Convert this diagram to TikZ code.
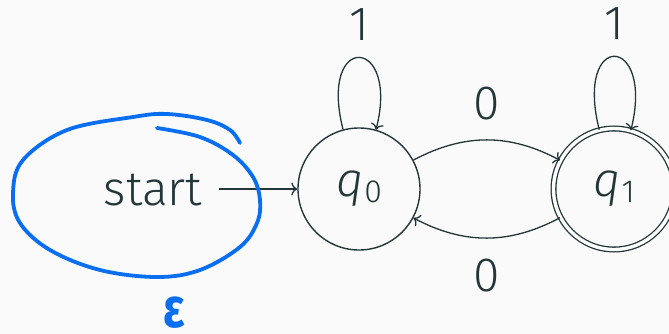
\documentclass[tikz,border=0pt]{standalone}
\usepackage{fontspec}
\setmainfont{Fira Sans}[UprightFont=* Light, ItalicFont=* Light Italic]
\newfontfamily\epsfont{Fira Sans}[UprightFont=* Bold]
\usetikzlibrary{arrows.meta}
\definecolor{ink}{HTML}{23373B}
\definecolor{bgc}{HTML}{FAFAFA}
\definecolor{pen}{HTML}{0A6EF0}
\begin{document}
\begin{tikzpicture}[x=1pt,y=1pt,
  state/.style={circle, draw=ink, line width=1.4pt, minimum size=122pt, inner sep=0pt, text=ink, font=\fontsize{48}{48}\selectfont},
  accept/.style={state, double, double distance=3.4pt, line width=1.3pt, minimum size=121pt},
  edge/.style={draw=ink, line width=1.3pt, -{To[length=6pt,width=13pt]}},
  lbl/.style={text=ink, inner sep=0pt, font=\fontsize{48}{48}\selectfont}]
\fill[bgc] (0,0) rectangle (669,-334);
\useasboundingbox (0,0) rectangle (669,-334);

\node[state] (q0) at (359,-189) {\itshape q\upshape\kern1pt\raisebox{-6pt}{\fontsize{32}{32}\selectfont 0}};
\node[accept] (q1) at (614,-189) {\itshape q\upshape\kern1pt\raisebox{-6pt}{\fontsize{32}{32}\selectfont 1}};
\node[lbl, anchor=base, inner xsep=17pt] (start) at (153,-205) {start};
\draw[edge] (start.east |- q0.west) -- (q0.west);

\draw[edge] (q0.105) .. controls +(-25,98) and +(24,94) .. (q0.74) node[lbl, pos=0.5, above=16pt] (l1) {1};
\draw[edge] (q1.104) .. controls +(-25,100) and +(24,96) .. (q1.74) node[lbl, pos=0.5, above=16pt] (l2) {1};

\draw[edge] (q0) to[bend left=28] node[lbl, above=19pt] (l3) {0} (q1);
\draw[edge] (q1) to[bend left=28] node[lbl, below=20pt] (l4) {0} (q0);

\draw[pen, line width=3.8pt, line cap=round, line join=round] plot[smooth, tension=0.6] coordinates {
 (157,-128) (200,-137) (233,-155) (253,-177) (260,-200) (257,-223) (240,-247) (200,-270)
 (157,-277) (100,-270) (50,-250) (20,-223) (13,-193) (23,-160) (67,-130) (133,-117)
 (167,-114) (207,-120) (230,-130) (240,-143)};
\node[text=pen, inner sep=0pt] (eps) at (174,-313) {\scalebox{0.8}[1]{\epsfont\fontsize{56}{56}\selectfont ε}};
\end{tikzpicture}
\end{document}
